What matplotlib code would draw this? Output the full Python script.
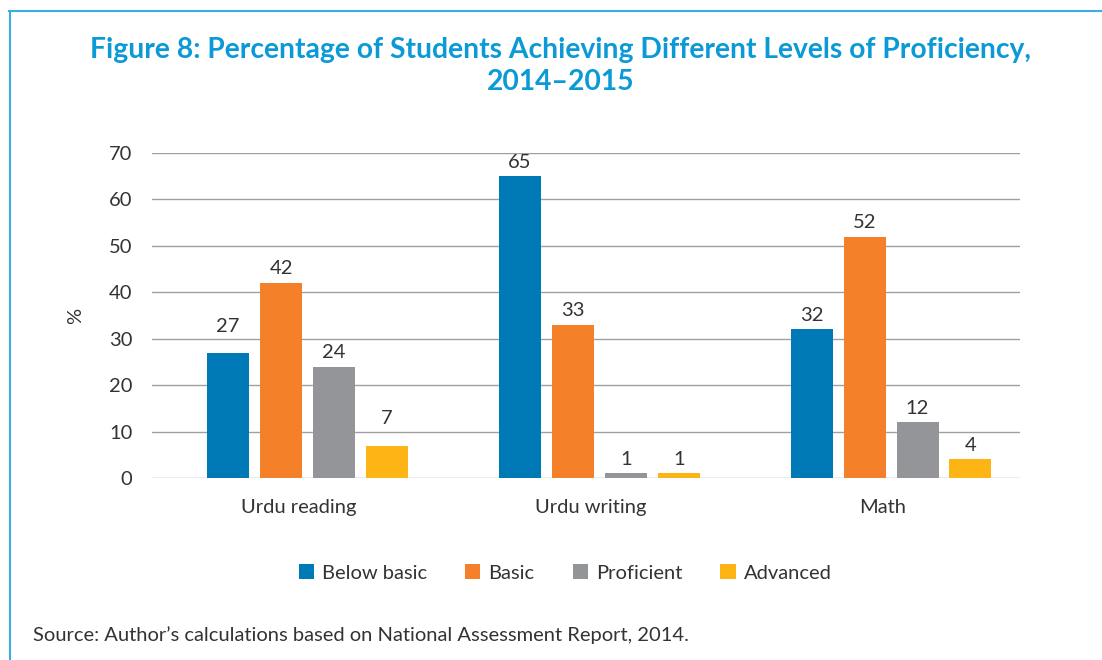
import numpy as np
import matplotlib.pyplot as plt
from matplotlib.lines import Line2D
from matplotlib.patches import Patch

plt.rcParams['font.family'] = ['Lato', 'DejaVu Sans']

categories = ['Urdu reading', 'Urdu writing', 'Math']
levels = ['Below basic', 'Basic', 'Proficient', 'Advanced']
below_basic = [27, 65, 32]
basic = [42, 33, 52]
proficient = [24, 1, 12]
advanced = [7, 1, 4]
yticks = [0, 10, 20, 30, 40, 50, 60, 70]

colors = ['#0079B7', '#F4802A', '#939598', '#FDB515']
text_color = '#333333'
frame_color = '#3AAEE0'
fs = 14.5

fig = plt.figure(figsize=(11.02, 6.6), dpi=100)
ax = fig.add_axes([152 / 1102, 1 - 478 / 660, 868 / 1102, 325 / 660])

x = np.arange(len(categories))
width = 0.144
step = 0.1815
series = [below_basic, basic, proficient, advanced]
# a couple of labels sit higher in the original
lift = {(0, 0): 9, (3, 0): 9}
for i, (vals, c) in enumerate(zip(series, colors)):
    pos = x + (i - 1.5) * step
    bars = ax.bar(pos, vals, width, color=c, zorder=3)
    for j, (b, v) in enumerate(zip(bars, vals)):
        ax.annotate(str(v), (b.get_x() + b.get_width() / 2, v),
                    xytext=(0, 4 + lift.get((i, j), 0)), textcoords='offset points',
                    ha='center', va='bottom', fontsize=fs, color=text_color)

ax.set_ylim(0, 70)
ax.set_xlim(-0.533, 2.442)
ax.set_yticks(yticks)
ax.set_xticks(x - 0.03)
ax.set_xticklabels(categories)
ax.tick_params(axis='both', length=0, labelsize=fs, colors=text_color)
ax.tick_params(axis='y', pad=14)
ax.tick_params(axis='x', pad=15)
ax.yaxis.grid(True, color='#A0A0A0', linewidth=1, zorder=0)
for s in ax.spines.values():
    s.set_visible(False)
ax.set_ylabel('%', fontsize=fs, color=text_color, labelpad=18)

title_color = '#0B9AD6'
fig.text(561 / 1102, 1 - 50 / 660,
         'Figure 8: Percentage of Students Achieving Different Levels of Proficiency,',
         ha='center', va='center', fontsize=20.3, fontweight='bold', color=title_color)
fig.text(561 / 1102, 1 - 82 / 660, '2014\u20132015',
         ha='center', va='center', fontsize=20.3, fontweight='bold', color=title_color)

handles = [Patch(facecolor=c, edgecolor='none') for c in colors]
fig.legend(handles, levels, loc='center', bbox_to_anchor=(565 / 1102, 1 - 573 / 660),
           ncol=4, frameon=False, fontsize=fs, handlelength=0.75, handleheight=0.75,
           handletextpad=0.4, columnspacing=1.9, labelcolor=text_color)

fig.text(33 / 1102, 1 - 635 / 660,
         'Source: Author\u2019s calculations based on National Assessment Report, 2014.',
         ha='left', va='center', fontsize=fs, color=text_color)

# frame lines
fig.add_artist(Line2D([9 / 1102, 1], [1 - 11 / 660] * 2, color=frame_color, linewidth=1.5))
fig.add_artist(Line2D([10 / 1102] * 2, [0, 1 - 11 / 660], color=frame_color, linewidth=1.5))

fig.savefig('out.png', dpi=100)
